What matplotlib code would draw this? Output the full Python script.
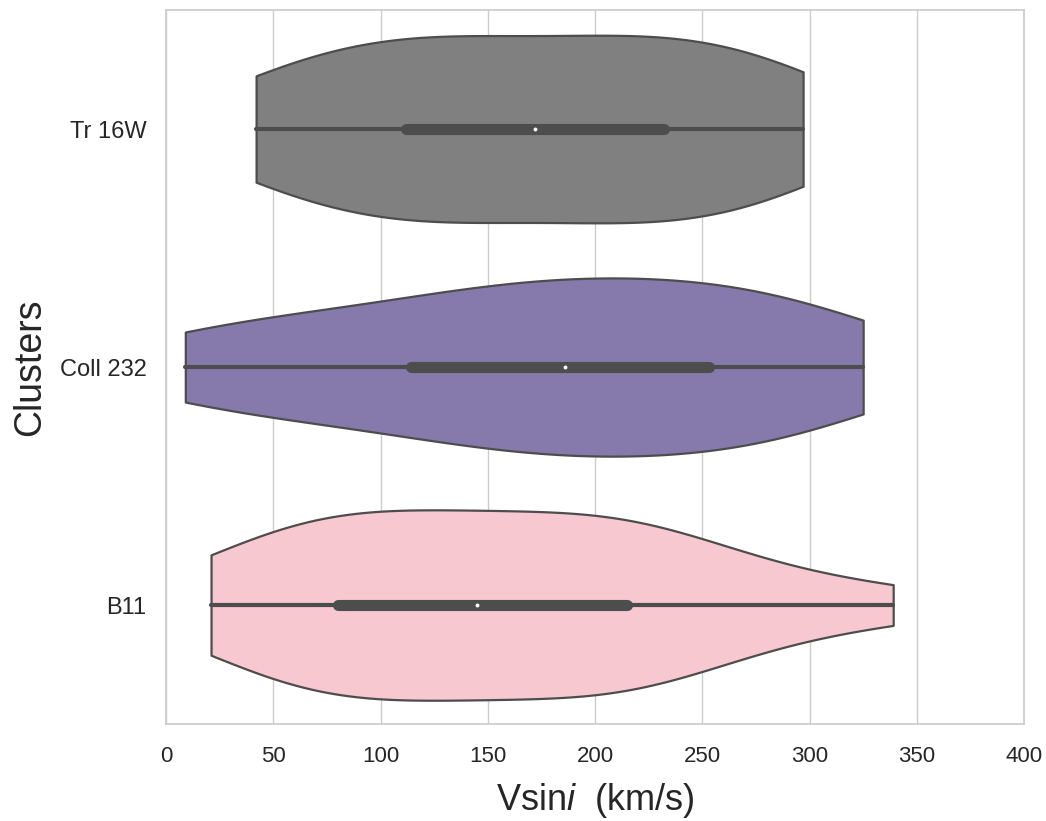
import numpy as np
import pandas as pd
import matplotlib
matplotlib.use("Agg")
import matplotlib.pyplot as plt
from matplotlib.collections import PolyCollection
import seaborn as sns

# Vsini (km/s) por aglomerado
clusters = ["Tr 16W", "Coll 232", "B11"]
vsini_tr16w = [42, 50, 64, 80, 97, 112, 120, 130, 142, 156, 172,
               188, 202, 214, 224, 232, 248, 264, 279, 290, 297]
vsini_coll232 = [9, 20, 46, 74, 97, 114, 130, 146, 160, 174, 186,
                 198, 211, 224, 239, 253, 265, 279, 294, 309, 325]
vsini_b11 = [21, 42, 56, 67, 74, 80, 100, 116, 128, 137, 145,
             165, 182, 195, 206, 215, 224, 236, 254, 288, 339]
cores = ["gray", "#8172B3", "pink"]

df = pd.DataFrame({
    "Clusters": ["Tr 16W"] * len(vsini_tr16w) + ["Coll 232"] * len(vsini_coll232)
                + ["B11"] * len(vsini_b11),
    "Vsini": vsini_tr16w + vsini_coll232 + vsini_b11,
})

sns.set_theme(style="whitegrid")
plt.rcParams["font.family"] = ["Liberation Sans", "DejaVu Sans"]
plt.rcParams["mathtext.fontset"] = "custom"
plt.rcParams["mathtext.it"] = "Liberation Sans:italic"
plt.rcParams["mathtext.rm"] = "Liberation Sans"

fig = plt.figure(figsize=(10.46, 8.21), dpi=100)
ax = fig.add_axes([0.1587, 0.1181, 0.8203, 0.8697])

# sem hue: a largura segue a densidade comum (mesma área para todos)
sns.violinplot(data=df, x="Vsini", y="Clusters", order=clusters,
               color="gray", linecolor=".3", cut=0, inner="box", linewidth=1.6,
               inner_kws=dict(box_width=8, whis_width=3), ax=ax)

violinos = [c for c in ax.collections if isinstance(c, PolyCollection)]
for coll, cor in zip(violinos, cores):
    coll.set_facecolor(sns.desaturate(cor, 0.75))

# mediana como ponto branco pequeno
for ln in ax.lines:
    if ln.get_markerfacecolor() in ("w", "white", (1.0, 1.0, 1.0, 1.0)):
        ln.set_marker("o")
        ln.set_markersize(2.2)
        ln.set_markeredgewidth(0.6)

ax.set_xlim(0, 400)
ax.set_xticks(np.arange(0, 401, 50))
ax.set_xlabel(r"Vsin$i$  (km/s)", fontsize=26, labelpad=10)
ax.set_ylabel("Clusters", fontsize=27, labelpad=8)
ax.tick_params(axis="x", labelsize=16, pad=10)
ax.tick_params(axis="y", labelsize=17, pad=8)

fig.savefig("out.png", dpi=100)
